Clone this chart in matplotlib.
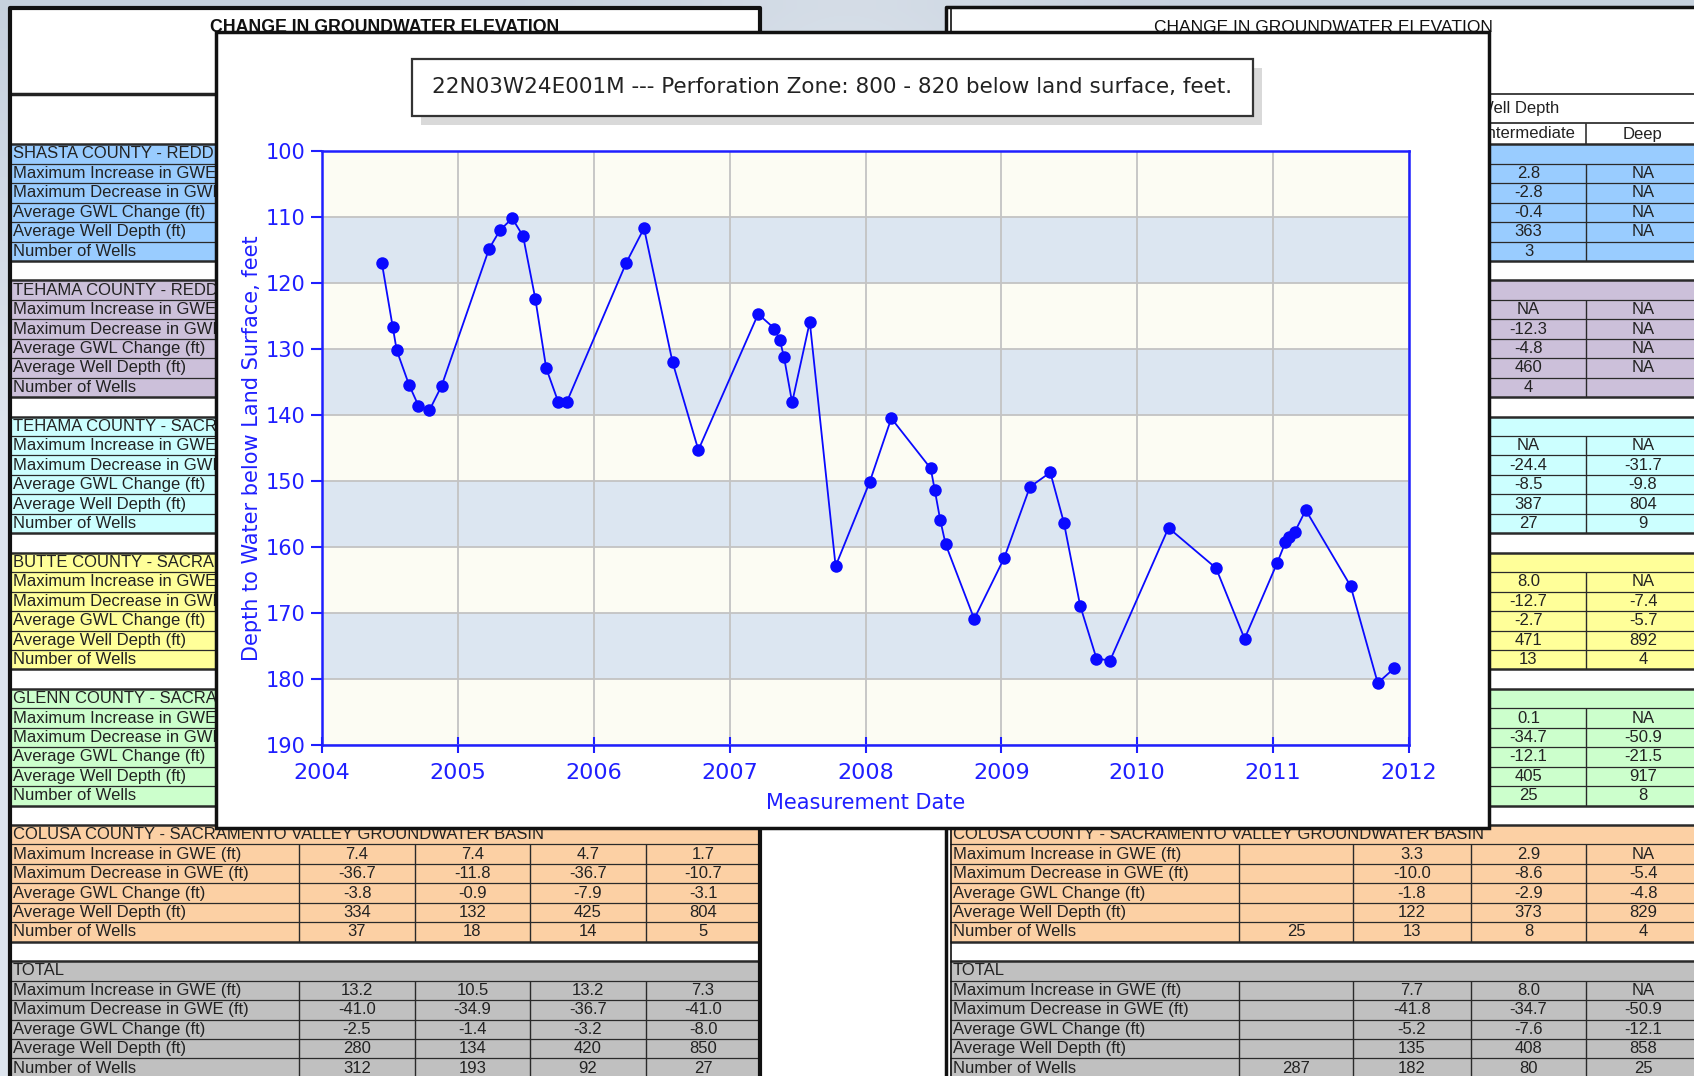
import matplotlib.pyplot as plt
import numpy as np
from matplotlib.patches import Rectangle

W, H = 1694, 1076

# well hydrograph: decimal year of measurement, depth to water (ft)
meas_date = [2004.44, 2004.52, 2004.55, 2004.64, 2004.71, 2004.79, 2004.88,
             2005.23, 2005.31, 2005.40, 2005.48, 2005.57, 2005.65, 2005.74, 2005.80,
             2006.24, 2006.37, 2006.58, 2006.77,
             2007.21, 2007.33, 2007.37, 2007.40, 2007.46, 2007.59, 2007.78,
             2008.03, 2008.19, 2008.48, 2008.51, 2008.55, 2008.59, 2008.80,
             2009.02, 2009.21, 2009.36, 2009.46, 2009.58, 2009.70, 2009.80,
             2010.23, 2010.58, 2010.79,
             2011.03, 2011.09, 2011.12, 2011.16, 2011.24, 2011.57, 2011.77, 2011.89]
depth_ft = [116.9, 126.6, 130.2, 135.4, 138.6, 139.3, 135.6,
            114.8, 112.0, 110.2, 112.9, 122.4, 132.9, 138.1, 138.1,
            116.9, 111.7, 132.0, 145.3,
            124.7, 126.9, 128.7, 131.2, 138.1, 125.9, 162.9,
            150.2, 140.5, 148.1, 151.4, 155.9, 159.6, 170.9,
            161.7, 150.9, 148.7, 156.3, 168.9, 176.9, 177.2,
            157.1, 163.2, 173.9,
            162.4, 159.3, 158.5, 157.7, 154.4, 165.9, 180.6, 178.4]
year_ticks = [2004, 2005, 2006, 2007, 2008, 2009, 2010, 2011, 2012]
depth_ticks = [100, 110, 120, 130, 140, 150, 160, 170, 180, 190]
chart_title = "22N03W24E001M --- Perforation Zone: 800 - 820 below land surface, feet."

# spreadsheet behind the hydrograph
sheet_title = "CHANGE IN GROUNDWATER ELEVATION"
basins = ["SHASTA COUNTY - REDDING GROUNDWATER BASIN",
          "TEHAMA COUNTY - REDDING GROUNDWATER BASIN",
          "TEHAMA COUNTY - SACRAMENTO VALLEY GROUNDWATER BASIN",
          "BUTTE COUNTY - SACRAMENTO VALLEY GROUNDWATER BASIN",
          "GLENN COUNTY - SACRAMENTO VALLEY GROUNDWATER BASIN",
          "COLUSA COUNTY - SACRAMENTO VALLEY GROUNDWATER BASIN",
          "TOTAL"]
basin_colors = ['#99ccff', '#ccc0da', '#ccffff', '#ffff99', '#ccffcc', '#fcd0a4', '#c0c0c0']
row_names = ["Maximum Increase in GWE (ft)", "Maximum Decrease in GWE (ft)",
             "Average GWL Change (ft)", "Average Well Depth (ft)", "Number of Wells"]
row_names_star = ["Maximum Increase in GWE* (ft)", "Maximum Decrease in GWE* (ft)",
                  "Average GWL Change (ft)", "Average Well Depth (ft)", "Number of Wells"]

left_colusa = [['7.4', '7.4', '4.7', '1.7'],
               ['-36.7', '-11.8', '-36.7', '-10.7'],
               ['-3.8', '-0.9', '-7.9', '-3.1'],
               ['334', '132', '425', '804'],
               ['37', '18', '14', '5']]
left_total = [['13.2', '10.5', '13.2', '7.3'],
              ['-41.0', '-34.9', '-36.7', '-41.0'],
              ['-2.5', '-1.4', '-3.2', '-8.0'],
              ['280', '134', '420', '850'],
              ['312', '193', '92', '27']]

intermediate = [['2.8', '-2.8', '-0.4', '363', '3'],
                ['NA', '-12.3', '-4.8', '460', '4'],
                ['NA', '-24.4', '-8.5', '387', '27'],
                ['8.0', '-12.7', '-2.7', '471', '13'],
                ['0.1', '-34.7', '-12.1', '405', '25']]
deep = [['NA', 'NA', 'NA', 'NA', ''],
        ['NA', 'NA', 'NA', 'NA', ''],
        ['NA', '-31.7', '-9.8', '804', '9'],
        ['NA', '-7.4', '-5.7', '892', '4'],
        ['NA', '-50.9', '-21.5', '917', '8']]
right_colusa = [['', '3.3', '2.9', 'NA'],
                ['', '-10.0', '-8.6', '-5.4'],
                ['', '-1.8', '-2.9', '-4.8'],
                ['', '122', '373', '829'],
                ['25', '13', '8', '4']]
right_total = [['', '7.7', '8.0', 'NA'],
               ['', '-41.8', '-34.7', '-50.9'],
               ['', '-5.2', '-7.6', '-12.1'],
               ['', '135', '408', '858'],
               ['287', '182', '80', '25']]

ROW0, PITCH = 154.0, 19.45
PANEL = (216, 32, 1489, 828)   # hydrograph panel: x0, y0, x1, y1
cell_font = dict(family='Liberation Sans', fontsize=12, color='#222222', va='center', zorder=3)

fig = plt.figure(figsize=(W / 100, H / 100), dpi=100)
renderer = fig.canvas.get_renderer()


def row_y(i):
    return ROW0 + i * PITCH


def cut_text(ax, x, y, s, limit, **kw):
    # shorten a label that runs in under the hydrograph panel
    t = ax.text(x, y, s, **kw)
    if limit is None:
        return t
    while len(s) > 1 and t.get_window_extent(renderer).x1 > limit:
        s = s[:-1]
        t.set_text(s)
    return t


def draw_block(ax, i0, edges, title, color, cells, labels, limit=None, labels_on=True):
    top = row_y(i0) - PITCH / 2
    x0, x1 = edges[0], edges[-1]
    ax.add_patch(Rectangle((x0, top), x1 - x0, 6 * PITCH, fc=color, ec='none', zorder=1))
    if labels_on:
        cut_text(ax, x0 + 3, row_y(i0), title, limit, ha='left', **cell_font)
    for r in range(5):
        y = row_y(i0 + 1 + r)
        if labels_on:
            cut_text(ax, x0 + 3, y, labels[r], limit, ha='left', **cell_font)
        if cells is None:
            continue
        for c in range(4):
            if cells[r][c]:
                ax.text((edges[c + 1] + edges[c + 2]) / 2, y, cells[r][c], ha='center', **cell_font)
    for r in range(7):
        lw = 1.8 if r in (0, 6) else 0.9
        ax.hlines(top + r * PITCH, x0, x1, color='#2a2a2a', lw=lw, zorder=2)
    ax.vlines(edges[1:-1], top + PITCH, top + 6 * PITCH, color='#2a2a2a', lw=1, zorder=2)


bg = fig.add_axes([0, 0, 1, 1])
bg.set_xlim(0, W)
bg.set_ylim(H, 0)
bg.axis('off')

# grey-blue desktop behind the sheets
gy, gx = np.mgrid[0:1:60j, 0:1:100j]
t = np.clip(gy * 2.5, 0, 1) * 0.6 + np.exp(-((gx - 0.5) / 0.12) ** 2) * 0.35
c_top = np.array([0.78, 0.82, 0.87])
c_low = np.array([0.93, 0.95, 0.97])
grad = c_top + (c_low - c_top) * np.clip(t, 0, 1)[..., None]
bg.imshow(grad, extent=[0, W, H, 0], aspect='auto', interpolation='bilinear', zorder=0)
bg.add_patch(Rectangle((760, 828), 186, 260, fc='white', ec='none', zorder=0.5))

# left sheet
left_edges = [10, 299, 415, 530, 646, 760]
bg.add_patch(Rectangle((10, 8), 750, 1080, fc='white', ec='none', zorder=0.6))
bg.plot([10, 10, 760, 760], [1090, 8, 8, 1090], color='#111111', lw=3, zorder=2.5)
bg.hlines(94, 10, 760, color='#222222', lw=2.5, zorder=2)
bg.text(385, 27, sheet_title, ha='center', va='center', family='Liberation Sans',
        fontsize=12.8, fontweight='bold', color='#111111', zorder=3)
for g in range(7):
    labels = row_names_star if g < 2 else row_names
    cells = {5: left_colusa, 6: left_total}.get(g)
    limit = PANEL[0] + 12 if g < 5 else None
    draw_block(bg, g * 7, left_edges, basins[g], basin_colors[g], cells, labels, limit)

# right sheet
right_edges = [950, 1239, 1353, 1471, 1586, 1700]
bg.add_patch(Rectangle((946, 7), 760, 1080, fc='white', ec='none', zorder=0.6))
bg.plot([946, 946, 1700], [1090, 7, 7], color='#111111', lw=2.5, zorder=2.5)
bg.vlines(951, 7, 1090, color='#111111', lw=1.2, zorder=2.5)
bg.hlines([94, 123], 951, 1700, color='#333333', lw=1.3, zorder=2)
bg.vlines(1586, 123, 144, color='#333333', lw=1.2, zorder=2)
bg.text(1323, 27, sheet_title, ha='center', va='center', family='Liberation Sans',
        fontsize=12.5, color='#111111', zorder=3)
bg.text(1478, 109, "Well Depth", ha='left', **cell_font)
bg.text(1529, 134, "Intermediate", ha='center', **cell_font)
bg.text(1643, 134, "Deep", ha='center', **cell_font)
for g in range(7):
    labels = row_names_star if g < 2 else row_names
    if g < 5:
        cells = [['', '', intermediate[g][r], deep[g][r]] for r in range(5)]
    else:
        cells = right_colusa if g == 5 else right_total
    draw_block(bg, g * 7, right_edges, basins[g], basin_colors[g], cells, labels,
               labels_on=g >= 5)

# hydrograph panel laid over the sheets
bg.add_patch(Rectangle((PANEL[0], PANEL[1]), PANEL[2] - PANEL[0], PANEL[3] - PANEL[1],
                       fc='white', ec='#111111', lw=2.5, zorder=10))
bg.add_patch(Rectangle((421, 68), 841, 57, fc='#d9d9d9', ec='none', zorder=11))
bg.add_patch(Rectangle((412, 59), 841, 57, fc='white', ec='#333333', lw=1.6, zorder=12))
bg.text(832, 87, chart_title, ha='center', va='center', family='DejaVu Sans',
        fontsize=15.5, color='#222222', zorder=13)

blue = '#1f1fff'
ax = fig.add_axes([322 / W, 1 - 745 / H, (1409 - 322) / W, (745 - 151) / H])
ax.set_facecolor('#fcfcf3')
for lo in depth_ticks[1:-1:2]:
    ax.axhspan(lo, lo + 10, color='#dce6f1', lw=0, zorder=0)
ax.grid(True, color='#c3c3c3', lw=1.3)
ax.set_axisbelow(True)
ax.plot(meas_date, depth_ft, color='#0a0aff', lw=1.3, marker='o', ms=9,
        markeredgewidth=0, zorder=3)
ax.set_xlim(year_ticks[0], year_ticks[-1])
ax.set_ylim(depth_ticks[-1], depth_ticks[0])
ax.set_xticks(year_ticks)
ax.set_xticklabels([str(y) for y in year_ticks])
ax.set_yticks(depth_ticks)
for side in ax.spines.values():
    side.set_color(blue)
    side.set_linewidth(1.8)
ax.tick_params(axis='y', direction='out', length=8, width=1.5, color=blue,
               labelcolor=blue, labelsize=15, pad=4)
ax.tick_params(axis='x', direction='inout', length=12, width=1.5, color=blue,
               labelcolor=blue, labelsize=16, pad=7)
ax.set_ylabel("Depth to Water below Land Surface, feet", color=blue, fontsize=15)
ax.yaxis.set_label_coords(-0.055, 0.5)
ax.set_xlabel("Measurement Date", color=blue, fontsize=15)
ax.xaxis.set_label_coords(0.5, -0.08)

fig.savefig('out.png', dpi=100)
